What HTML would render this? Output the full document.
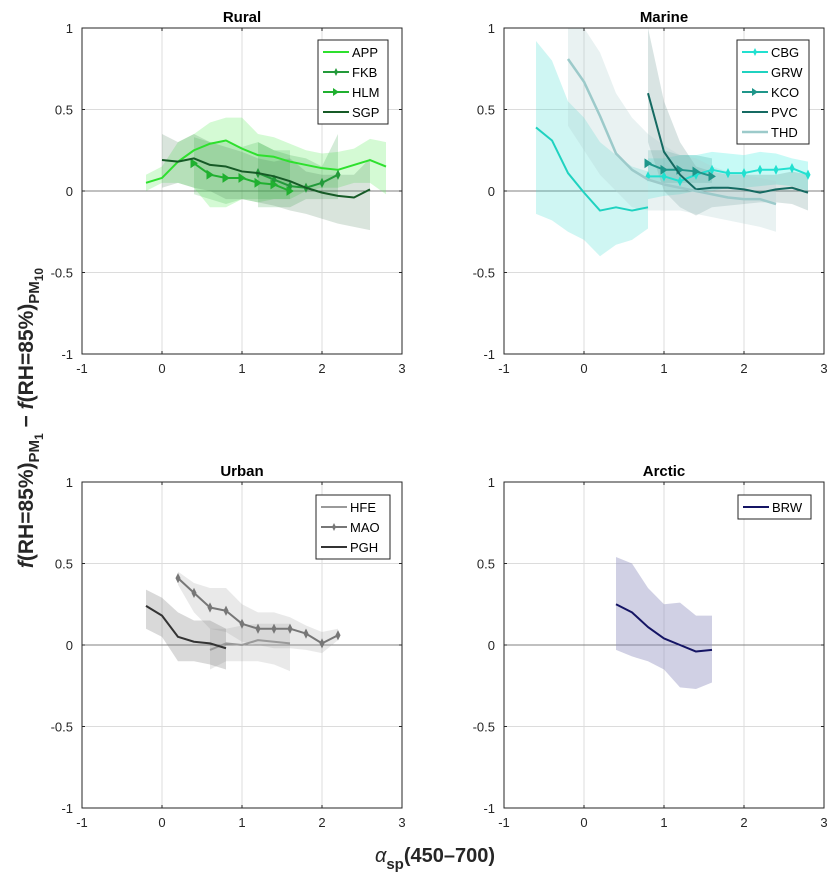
<!DOCTYPE html>
<html><head><meta charset="utf-8">
<style>
html,body{margin:0;padding:0;background:#fff;}
svg{display:block;font-family:"Liberation Sans",Arial,sans-serif;}
</style></head>
<body>
<svg id="fig" width="837" height="881" viewBox="0 0 837 881">
<rect width="837" height="881" fill="#fff"/>
</svg>
<script>
// ---------- DATA ----------
const xTicks = [-1,0,1,2,3];
const yTicks = [-1,-0.5,0,0.5,1];
const yTickLabels = ['-1','-0.5','0','0.5','1'];
const panelTitles = ['Rural','Marine','Urban','Arctic'];

// Rural
const appX = [-0.2,0,0.2,0.4,0.6,0.8,1.0,1.2,1.4,1.6,1.8,2.0,2.2,2.4,2.6,2.8];
const appY = [0.05,0.08,0.18,0.25,0.29,0.31,0.26,0.22,0.21,0.18,0.16,0.14,0.13,0.16,0.19,0.15];
const appHi = [0.1,0.15,0.3,0.35,0.42,0.45,0.45,0.35,0.33,0.29,0.25,0.23,0.24,0.26,0.32,0.3];
const appLo = [0.0,0.05,0.05,0.02,-0.1,-0.1,-0.05,-0.07,-0.05,-0.05,0.0,0.02,0.02,0.05,0.05,-0.02];
const fkbX = [1.2,1.4,1.6,1.8,2.0,2.2];
const fkbY = [0.11,0.07,0.03,0.02,0.05,0.10];
const fkbHi = [0.3,0.25,0.22,0.2,0.15,0.35];
const fkbLo = [-0.1,-0.1,-0.1,-0.05,-0.05,-0.05];
const hlmX = [0.4,0.6,0.8,1.0,1.2,1.4,1.6];
const hlmY = [0.17,0.10,0.08,0.08,0.05,0.04,0.0];
const hlmHi = [0.33,0.3,0.3,0.27,0.3,0.25,0.25];
const hlmLo = [-0.02,-0.05,-0.08,-0.05,-0.05,-0.05,-0.05];
const sgpX = [0,0.2,0.4,0.6,0.8,1.0,1.2,1.4,1.6,1.8,2.0,2.2,2.4,2.6];
const sgpY = [0.19,0.18,0.20,0.16,0.15,0.12,0.11,0.09,0.06,0.02,-0.01,-0.03,-0.04,0.01];
const sgpHi = [0.35,0.3,0.35,0.3,0.27,0.24,0.2,0.18,0.2,0.12,0.1,0.1,0.1,0.2];
const sgpLo = [0.02,0.05,0.02,0.0,-0.05,-0.05,-0.07,-0.09,-0.12,-0.14,-0.17,-0.2,-0.22,-0.24];

// Marine
const cbgX = [0.8,1.0,1.2,1.4,1.6,1.8,2.0,2.2,2.4,2.6,2.8];
const cbgY = [0.09,0.09,0.06,0.10,0.13,0.11,0.11,0.13,0.13,0.14,0.10];
const cbgHi = [0.2,0.2,0.22,0.22,0.24,0.23,0.22,0.24,0.23,0.2,0.18];
const cbgLo = [-0.05,-0.03,-0.02,0.0,0.0,0.02,0.02,0.03,0.04,0.03,0.0];
const grwX = [-0.6,-0.4,-0.2,0,0.2,0.4,0.6,0.8];
const grwY = [0.39,0.31,0.11,-0.01,-0.12,-0.10,-0.12,-0.10];
const grwHi = [0.92,0.8,0.55,0.45,0.3,0.22,0.15,0.12];
const grwLo = [-0.14,-0.18,-0.25,-0.3,-0.4,-0.33,-0.3,-0.23];
const kcoX = [0.8,1.0,1.2,1.4,1.6];
const kcoY = [0.17,0.13,0.13,0.12,0.09];
const kcoHi = [0.25,0.25,0.22,0.22,0.2];
const kcoLo = [0.07,0.05,0.05,0.05,0.05];
const pvcX = [0.8,1.0,1.2,1.4,1.6,1.8,2.0,2.2,2.4,2.6,2.8];
const pvcY = [0.6,0.24,0.10,0.01,0.02,0.02,0.01,-0.01,0.01,0.02,-0.01];
const pvcHi = [1.0,0.55,0.3,0.15,0.12,0.1,0.1,0.1,0.1,0.12,0.1];
const pvcLo = [0.3,0.0,-0.1,-0.15,-0.1,-0.09,-0.08,-0.07,-0.07,-0.08,-0.12];
const thdX = [-0.2,0,0.2,0.4,0.6,0.8,1.0,1.2,1.4,1.6,1.8,2.0,2.2,2.4];
const thdY = [0.81,0.67,0.46,0.23,0.13,0.07,0.04,0.02,0.0,-0.02,-0.04,-0.05,-0.05,-0.08];
const thdHi = [1.0,1.0,0.85,0.6,0.45,0.35,0.28,0.22,0.2,0.15,0.12,0.1,0.08,0.06];
const thdLo = [0.4,0.25,0.1,0.0,-0.1,-0.12,-0.12,-0.12,-0.14,-0.16,-0.18,-0.2,-0.22,-0.25];

// Urban
const hfeX = [0.6,0.8,1.0,1.2,1.4,1.6];
const hfeY = [-0.03,0.01,0.0,0.03,0.02,0.01];
const hfeHi = [0.1,0.1,0.12,0.13,0.13,0.13];
const hfeLo = [-0.15,-0.1,-0.1,-0.1,-0.12,-0.16];
const maoX = [0.2,0.4,0.6,0.8,1.0,1.2,1.4,1.6,1.8,2.0,2.2];
const maoY = [0.41,0.32,0.23,0.21,0.13,0.10,0.10,0.10,0.07,0.01,0.06];
const maoHi = [0.45,0.38,0.35,0.35,0.25,0.2,0.2,0.17,0.12,0.08,0.1];
const maoLo = [0.37,0.2,0.1,0.08,0.02,0.0,-0.02,-0.02,-0.03,-0.05,0.03];
const pghX = [-0.2,0,0.2,0.4,0.6,0.8];
const pghY = [0.24,0.18,0.05,0.02,0.01,-0.02];
const pghHi = [0.34,0.29,0.2,0.15,0.15,0.1];
const pghLo = [0.1,0.05,-0.1,-0.1,-0.12,-0.15];

// Arctic
const brwX = [0.4,0.6,0.8,1.0,1.2,1.4,1.6];
const brwY = [0.25,0.2,0.11,0.04,0.0,-0.04,-0.03];
const brwHi = [0.54,0.5,0.35,0.25,0.26,0.18,0.18];
const brwLo = [-0.03,-0.07,-0.1,-0.15,-0.26,-0.27,-0.23];

// ---------- LAYOUT ----------
const NS='http://www.w3.org/2000/svg';
const svg=document.getElementById('fig');
function mk(tag,attrs,parent){const e=document.createElementNS(NS,tag);for(const k in attrs)e.setAttribute(k,attrs[k]);(parent||svg).appendChild(e);return e;}

const panels=[
 {L:82,R:402,T:28,B:354,title:panelTitles[0],leg:{x:318,y:40,w:70},series:[
  {name:'APP',x:appX,y:appY,hi:appHi,lo:appLo,c:'#2ee02e',f:'#66ee66',fo:0.28,m:null},
  {name:'FKB',x:fkbX,y:fkbY,hi:fkbHi,lo:fkbLo,c:'#239a3a',f:'#2a9a3a',fo:0.2,m:'plus'},
  {name:'HLM',x:hlmX,y:hlmY,hi:hlmHi,lo:hlmLo,c:'#20b030',f:'#30b040',fo:0.2,m:'tri'},
  {name:'SGP',x:sgpX,y:sgpY,hi:sgpHi,lo:sgpLo,c:'#165a26',f:'#3f7a4f',fo:0.2,m:null}]},
 {L:504,R:824,T:28,B:354,title:panelTitles[1],leg:{x:737,y:40,w:72},series:[
  {name:'CBG',x:cbgX,y:cbgY,hi:cbgHi,lo:cbgLo,c:'#22e0d0',f:'#44eee0',fo:0.3,m:'plus'},
  {name:'GRW',x:grwX,y:grwY,hi:grwHi,lo:grwLo,c:'#1fd2c0',f:'#40dcd0',fo:0.25,m:null},
  {name:'KCO',x:kcoX,y:kcoY,hi:kcoHi,lo:kcoLo,c:'#1f968a',f:'#2a9a90',fo:0.22,m:'tri'},
  {name:'PVC',x:pvcX,y:pvcY,hi:pvcHi,lo:pvcLo,c:'#156a62',f:'#3f7a74',fo:0.2,m:null},
  {name:'THD',x:thdX,y:thdY,hi:thdHi,lo:thdLo,c:'#9ccaca',f:'#b0d2d2',fo:0.28,m:null}]},
 {L:82,R:402,T:482,B:808,title:panelTitles[2],leg:{x:316,y:495,w:74},series:[
  {name:'HFE',x:hfeX,y:hfeY,hi:hfeHi,lo:hfeLo,c:'#9a9a9a',f:'#999',fo:0.22,m:null},
  {name:'MAO',x:maoX,y:maoY,hi:maoHi,lo:maoLo,c:'#777',f:'#999',fo:0.22,m:'plus'},
  {name:'PGH',x:pghX,y:pghY,hi:pghHi,lo:pghLo,c:'#333',f:'#777',fo:0.28,m:null}]},
 {L:504,R:824,T:482,B:808,title:panelTitles[3],leg:{x:738,y:495,w:73},series:[
  {name:'BRW',x:brwX,y:brwY,hi:brwHi,lo:brwLo,c:'#141464',f:'#8f8fbf',fo:0.42,m:null}]}
];

panels.forEach((p,pi)=>{
 const g=mk('g',{});
 
 
 const sx=v=>p.L+(v+1)/4*(p.R-p.L);
 const sy=v=>p.B-(v+1)/2*(p.B-p.T);
 const cid='clip'+pi;
 const cp=mk('clipPath',{id:cid},g);mk('rect',{x:p.L,y:p.T,width:p.R-p.L,height:p.B-p.T},cp);
 xTicks.forEach(t=>{const l=mk('line',{x1:sx(t),x2:sx(t),y1:p.T,y2:p.B,stroke:'#dcdcdc','stroke-width':1},g);
  });
 yTicks.forEach(t=>{const l=mk('line',{x1:p.L,x2:p.R,y1:sy(t),y2:sy(t),stroke:'#dcdcdc','stroke-width':1},g);
  });
 const data=mk('g',{'clip-path':'url(#'+cid+')'},g);
 const z=mk('line',{x1:p.L,x2:p.R,y1:sy(0),y2:sy(0),stroke:'#808080','stroke-width':1},data);
 
 p.series.forEach(s=>{
  let pts=s.x.map((x,i)=>sx(x)+','+sy(s.hi[i]));
  for(let i=s.x.length-1;i>=0;i--)pts.push(sx(s.x[i])+','+sy(s.lo[i]));
  const b=mk('polygon',{points:pts.join(' '),fill:s.f,'fill-opacity':s.fo,stroke:'none'},data);
  
 });
 p.series.forEach(s=>{
  const l=mk('polyline',{points:s.x.map((x,i)=>sx(x)+','+sy(s.y[i])).join(' '),fill:'none',stroke:s.c,'stroke-width':s.name==='THD'?2.5:2,'stroke-linejoin':'round'},data);
  
  if(s.m){s.x.forEach((x,i)=>{const X=sx(x),Y=sy(s.y[i]);
   const m=s.m==='plus'?mk('path',{d:`M${X},${Y-4}L${X+2},${Y}L${X},${Y+4}L${X-2},${Y}Z`,fill:s.c,stroke:s.c,'stroke-width':1},data)
    :mk('path',{d:`M${X-3},${Y-4}L${X+3},${Y}L${X-3},${Y+4}Z`,fill:s.c,stroke:s.c},data);
   });}
 });
 const box=mk('rect',{x:p.L,y:p.T,width:p.R-p.L,height:p.B-p.T,fill:'none',stroke:'#262626','stroke-width':1},g);
 
 xTicks.forEach(t=>{mk('line',{x1:sx(t),x2:sx(t),y1:p.B,y2:p.B-3,stroke:'#262626'},g);mk('line',{x1:sx(t),x2:sx(t),y1:p.T,y2:p.T+3,stroke:'#262626'},g);
  const tx=mk('text',{x:sx(t),y:p.B+19,'text-anchor':'middle','font-size':13,fill:'#262626'},g);tx.textContent=String(t);
  });
 yTicks.forEach((t,i)=>{mk('line',{x1:p.L,x2:p.L+3,y1:sy(t),y2:sy(t),stroke:'#262626'},g);mk('line',{x1:p.R,x2:p.R-3,y1:sy(t),y2:sy(t),stroke:'#262626'},g);
  const tx=mk('text',{x:p.L-9,y:sy(t)+5,'text-anchor':'end','font-size':13,fill:'#262626'},g);tx.textContent=yTickLabels[i];
  });
 const ti=mk('text',{x:(p.L+p.R)/2,y:p.T-6,'text-anchor':'middle','font-size':15,'font-weight':'bold',fill:'#000'},g);ti.textContent=p.title;
 
 const lg=mk('g',{},g);
 const lh=p.series.length*20+4;
 mk('rect',{x:p.leg.x,y:p.leg.y,width:p.leg.w,height:lh,fill:'#fff',stroke:'#262626','stroke-width':1},lg);
 p.series.forEach((s,i)=>{const yy=p.leg.y+12+i*20;const x0=p.leg.x+5,x1=p.leg.x+31;
  const e=mk('g',{},lg);
  mk('line',{x1:x0,x2:x1,y1:yy,y2:yy,stroke:s.c,'stroke-width':s.name==='THD'?2.5:2},e);
  const X=(x0+x1)/2;
  if(s.m==='plus')mk('path',{d:`M${X},${yy-4}L${X+2},${yy}L${X},${yy+4}L${X-2},${yy}Z`,fill:s.c},e);
  if(s.m==='tri')mk('path',{d:`M${X-3},${yy-4}L${X+3},${yy}L${X-3},${yy+4}Z`,fill:s.c},e);
  const t=mk('text',{x:x1+3,y:yy+5,'font-size':13,fill:'#000'},e);t.textContent=s.name;});
});

const yl=mk('text',{transform:'translate(33,418) rotate(-90)','text-anchor':'middle','font-size':21,'font-weight':'bold',fill:'#262626'});

yl.innerHTML='<tspan font-style="italic">f</tspan>(RH=85%)<tspan font-size="15" dy="6">PM</tspan><tspan font-size="12" dy="4">1</tspan><tspan dy="-10">  −  </tspan><tspan font-style="italic">f</tspan>(RH=85%)<tspan font-size="15" dy="6">PM</tspan><tspan font-size="12" dy="4">10</tspan>';
const xl=mk('text',{x:435,y:862,'text-anchor':'middle','font-size':20,'font-weight':'bold',fill:'#262626'});

xl.innerHTML='<tspan font-style="italic" font-weight="normal">α</tspan><tspan font-size="15" dy="7">sp</tspan><tspan dy="-7">(450–700)</tspan>';
</script>
</body></html>
